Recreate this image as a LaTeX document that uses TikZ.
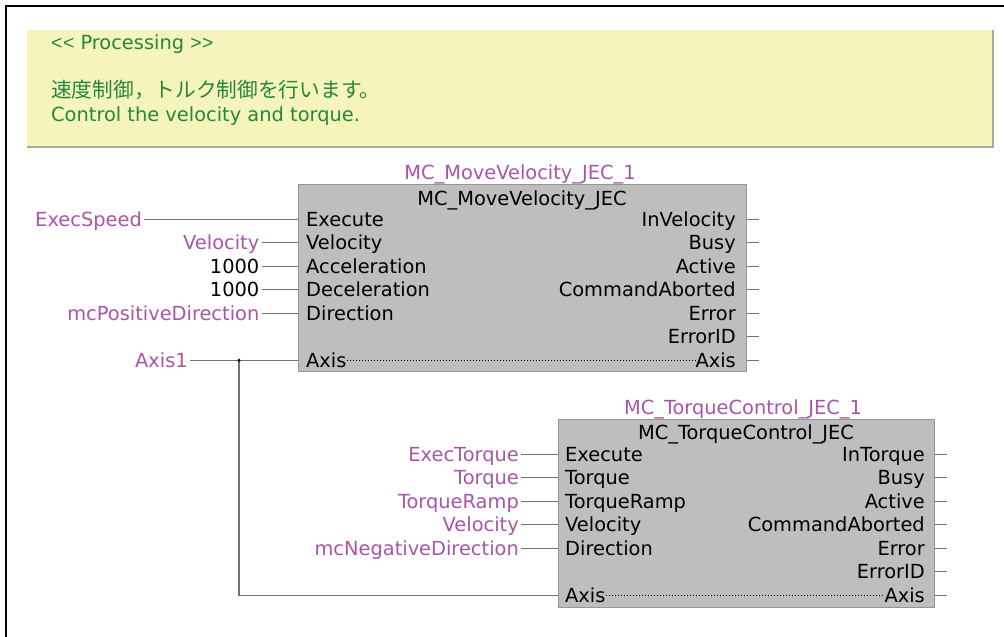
\documentclass[tikz,border=0pt]{standalone}
\usepackage{fontspec}
\setmainfont{DejaVu Sans}
\newfontfamily\jpfont{Noto Sans CJK JP}
\newfontfamily\brfont{Liberation Sans}

\definecolor{notefill}{RGB}{245,244,187}
\definecolor{noteedge}{RGB}{170,170,160}
\definecolor{notetext}{RGB}{38,134,62}
\definecolor{varpurple}{RGB}{168,86,168}
\definecolor{fbfill}{RGB}{190,190,190}
\definecolor{fbedge}{RGB}{150,150,150}
\definecolor{wiregray}{RGB}{115,115,115}

\tikzset{
  txt/.style={inner sep=0pt, text height=14pt, text depth=0pt,
              font=\fontsize{19.4}{22}\selectfont},
  cmt/.style={txt, text=notetext, anchor=base west},
  var/.style={txt, text=varpurple, anchor=east},
  num/.style={txt, text=black, anchor=east},
  inst/.style={txt, text=varpurple},
  pinin/.style={txt, anchor=west},
  pinout/.style={txt, anchor=east},
  fbtitle/.style={txt},
  fb/.style={draw=fbedge, fill=fbfill, line width=1pt, anchor=north west,
             inner sep=0pt},
  wire/.style={draw=wiregray, line width=1.1pt},
  dotline/.style={draw=black, line width=1pt, dash pattern=on 1.1pt off 1.9pt},
}

\begin{document}
\begin{tikzpicture}[x=1pt, y=-1pt]
\useasboundingbox (0,0) rectangle (1004,637);
\fill[white] (0,0) rectangle (1004,637);

% outer frame (top and left edges)
\draw[line width=2.5pt] (6,637) -- (6,6) -- (1004,6);

% comment box
\fill[notefill] (27,30) rectangle (993,147);
\draw[noteedge, line width=1.2pt] (993,30) -- (993,147) -- (27,147);
\node[cmt] (c1) at (51,49) {{\brfont<\kern0.5pt<}\ Processing\ {\brfont>\kern0.5pt>}};
\node[cmt, font=\jpfont\fontsize{20.7}{24}\selectfont] (c2) at (51,97)
  {速度制御，トルク制御を行います。};
\node[cmt] (c3) at (51,121) {Control the velocity and torque.};

% ---------- MC_MoveVelocity_JEC ----------
\node[fb, minimum width=448pt, minimum height=187pt] (fb1) at (298,184) {};
\node[inst] (n1) at (520,172) {MC\_MoveVelocity\_JEC\_1};
\node[fbtitle] (t1) at (522,198.5) {MC\_MoveVelocity\_JEC};
\foreach \t [count=\i] in {Execute,Velocity,Acceleration,Deceleration,Direction}
  \node[pinin] (fb1-i\i) at (306,{219.3+23.5*(\i-1)}) {\t};
\node[pinin] (fb1-i7) at (306,360.3) {Axis};
\foreach \t [count=\i] in {InVelocity,Busy,Active,CommandAborted,Error,ErrorID,Axis}
  \node[pinout] (fb1-o\i) at (736,{219.3+23.5*(\i-1)}) {\t};
\draw[dotline] (fb1-i7.east) -- (fb1-o7.west);

\node[var] (v-es)   at (142,219.3)   {ExecSpeed};
\node[var] (v-vel1) at (259.5,242.8) {Velocity};
\node[num] (v-acc)  at (259.5,266.3) {1000};
\node[num] (v-dec)  at (259.5,289.8) {1000};
\node[var] (v-dir1) at (259.5,313.3) {mcPositiveDirection};
\node[var] (v-axis) at (188,360.3)   {Axis1};

\foreach \v in {v-es,v-vel1,v-acc,v-dec,v-dir1,v-axis}
  \draw[wire, shorten <=2pt] (\v.east) -- (fb1.west |- \v.east);
\foreach \i in {1,...,7}
  \draw[wire] (fb1.east |- fb1-o\i.east) -- ++(12,0);

% ---------- MC_TorqueControl_JEC ----------
\node[fb, minimum width=376pt, minimum height=188pt] (fb2) at (558,419) {};
\node[inst] (n2) at (743,407.5) {MC\_TorqueControl\_JEC\_1};
\node[fbtitle] (t2) at (746,432.5) {MC\_TorqueControl\_JEC};
\foreach \t [count=\i] in {Execute,Torque,TorqueRamp,Velocity,Direction}
  \node[pinin] (fb2-i\i) at (565,{454.3+23.5*(\i-1)}) {\t};
\node[pinin] (fb2-i7) at (565,595.3) {Axis};
\foreach \t [count=\i] in {InTorque,Busy,Active,CommandAborted,Error,ErrorID,Axis}
  \node[pinout] (fb2-o\i) at (925,{454.3+23.5*(\i-1)}) {\t};
\draw[dotline] (fb2-i7.east) -- (fb2-o7.west);

\node[var] (v-et)   at (519,454.3) {ExecTorque};
\node[var] (v-tq)   at (519,477.8) {Torque};
\node[var] (v-tr)   at (519,501.3) {TorqueRamp};
\node[var] (v-vel2) at (519,524.8) {Velocity};
\node[var] (v-dir2) at (519,548.3) {mcNegativeDirection};

\foreach \v in {v-et,v-tq,v-tr,v-vel2,v-dir2}
  \draw[wire, shorten <=2pt] (\v.east) -- (fb2.west |- \v.east);
\foreach \i in {1,...,7}
  \draw[wire] (fb2.east |- fb2-o\i.east) -- ++(12,0);

% shared axis branch
\coordinate (jn) at (239,360.3);
\draw[wire] (jn) |- (fb2.west |- fb2-i7.west);
\fill[black] (jn) circle (1.7pt);
\end{tikzpicture}
\end{document}
